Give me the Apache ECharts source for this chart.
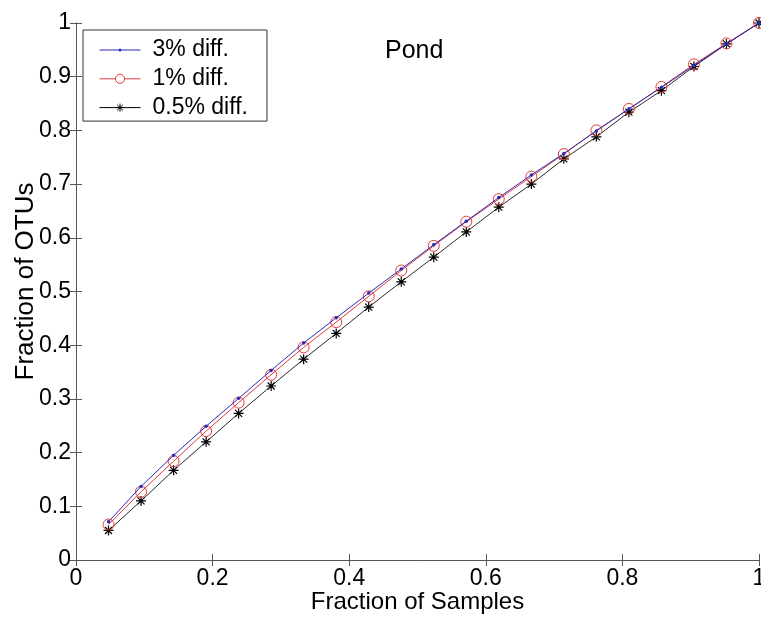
<!DOCTYPE html>
<html>
<head>
<meta charset="utf-8">
<script src="https://cdn.jsdelivr.net/npm/echarts@6/dist/echarts.min.js"></script>
<style>html,body{margin:0;padding:0;background:#fff}#c{width:761px;height:621px}</style>
</head>
<body>
<div id="c"></div>
<script>
// Fraction of samples: i/21 for i = 1..21
const xFractions = [0.0476,0.0952,0.1429,0.1905,0.2381,0.2857,0.3333,0.3810,0.4286,0.4762,0.5238,0.5714,0.6190,0.6667,0.7143,0.7619,0.8095,0.8571,0.9048,0.9524,1.0];
const diff3 = [0.071,0.137,0.195,0.249,0.301,0.353,0.404,0.451,0.497,0.542,0.587,0.631,0.675,0.717,0.757,0.799,0.840,0.880,0.921,0.961,1.0];
const diff1 = [0.066,0.127,0.184,0.240,0.293,0.345,0.396,0.443,0.491,0.539,0.585,0.630,0.672,0.714,0.756,0.800,0.840,0.881,0.923,0.962,1.0];
const diff05 = [0.055,0.110,0.167,0.220,0.273,0.324,0.374,0.422,0.471,0.518,0.564,0.611,0.657,0.700,0.747,0.788,0.834,0.874,0.919,0.961,1.0];
const seriesNames = ['3% diff.','1% diff.','0.5% diff.'];
const titleText = 'Pond';
const xName = 'Fraction of Samples';
const yName = 'Fraction of OTUs';

const font = "'Liberation Sans', Arial, Helvetica, sans-serif";
const axisCol = '#555';
const blue = '#2a2ab8', red = '#e23a3a', black = '#2a2a2a';
const pair = ys => xFractions.map((x,i)=>[x, ys[i]]);
const asterisk = 'path://M5,0L5,10M0,5L10,5M1.5,1.5L8.5,8.5M1.5,8.5L8.5,1.5';
const legIcons = [
  'path://M0,1L41,1L41,2L0,2Z M19,1.5A1.5,1.5 0 1 1 22,1.5A1.5,1.5 0 1 1 19,1.5Z',
  'path://M0,5L16,5M25,5L41,5M25,5A4.5,4.5 0 1 1 16,5A4.5,4.5 0 1 1 25,5',
  'path://M0,5L41,5M20.5,1L20.5,9M16.5,5L24.5,5M17.7,2.2L23.3,7.8M17.7,7.8L23.3,2.2'
];

const fmt = v => (v === 0 || v === 1) ? String(v) : String(+v.toFixed(1));

const chart = echarts.init(document.getElementById('c'), null, {renderer:'canvas'});
const tick = {show:true, inside:true, length:6, lineStyle:{color:axisCol}};
const line = {show:true, lineStyle:{color:axisCol, width:1}};
chart.setOption({
  animation:false,
  backgroundColor:'#fff',
  title:{text:titleText, left:380, top:34, textStyle:{fontFamily:font, fontSize:25, fontWeight:'normal', color:'#000'}},
  grid:{left:76, right:2, top:23, bottom:61, containLabel:false, outerBoundsMode:'none'},
  legend:{
    orient:'vertical', left:83, top:30,
    backgroundColor:'#fff', borderColor:'#333', borderWidth:1,
    padding:[8.5,19,2,14], itemGap:5.8, itemWidth:41, itemHeight:12,
    itemStyle:{borderWidth:1},
    textStyle:{fontFamily:font, fontSize:23, color:'#000', padding:[0,0,0,7]},
    data:seriesNames.map((n,i)=>({name:n, icon:legIcons[i]}))
  },
  xAxis:[
    {type:'value', min:0, max:1, interval:0.2, position:'bottom', axisLine:line, axisTick:tick, splitLine:{show:false},
      name:xName, nameLocation:'middle', nameGap:30, nameMoveOverlap:false,
      nameTextStyle:{fontFamily:font, fontSize:24, color:'#000'},
      axisLabel:{fontFamily:font, fontSize:23, color:'#000', margin:7, formatter:fmt}},
    {type:'value', min:0, max:1, interval:0.2, position:'top', axisLine:line, axisTick:tick, splitLine:{show:false}, axisLabel:{show:false}}
  ],
  yAxis:[
    {type:'value', min:0, max:1, interval:0.1, position:'left', axisLine:line, axisTick:tick, splitLine:{show:false},
      name:yName, nameLocation:'middle', nameGap:37, nameRotate:90, nameMoveOverlap:false,
      nameTextStyle:{fontFamily:font, fontSize:26, color:'#000', padding:[0,0,0,20]},
      axisLabel:{fontFamily:font, fontSize:23, color:'#000', margin:5, formatter:fmt}},
    {type:'value', min:0, max:1, interval:0.1, position:'right', axisLine:line, axisTick:tick, splitLine:{show:false}, axisLabel:{show:false}}
  ],
  series:[
    {name:seriesNames[0], type:'line', data:pair(diff3), symbol:'circle', symbolSize:3.5,
     lineStyle:{color:blue, width:1}, itemStyle:{color:blue}, z:4},
    {name:seriesNames[1], type:'line', data:pair(diff1), symbol:'circle', symbolSize:11,
     lineStyle:{color:red, width:1}, itemStyle:{color:'none', borderColor:red, borderWidth:1}, z:3},
    {name:seriesNames[2], type:'line', data:pair(diff05), symbol:asterisk, symbolSize:10,
     lineStyle:{color:black, width:1}, itemStyle:{color:'none', borderColor:'#000', borderWidth:1.2}, z:2}
  ]
});
</script>
</body>
</html>
